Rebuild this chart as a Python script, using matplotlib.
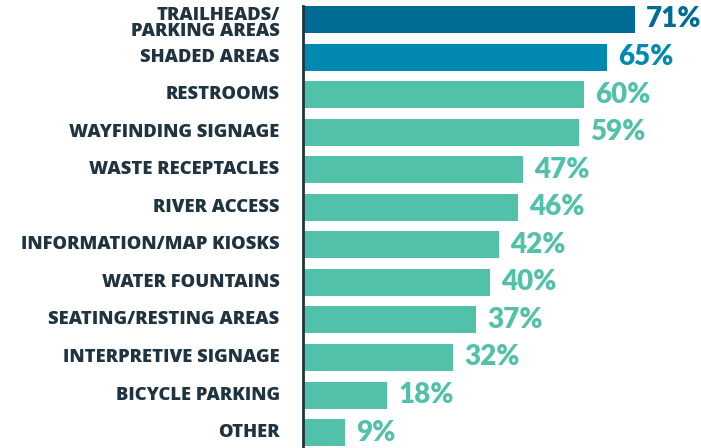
import matplotlib.pyplot as plt

# survey amenities and share of respondents choosing them
amenities = [
    "TRAILHEADS/\nPARKING AREAS",
    "SHADED AREAS",
    "RESTROOMS",
    "WAYFINDING SIGNAGE",
    "WASTE RECEPTACLES",
    "RIVER ACCESS",
    "INFORMATION/MAP KIOSKS",
    "WATER FOUNTAINS",
    "SEATING/RESTING AREAS",
    "INTERPRETIVE SIGNAGE",
    "BICYCLE PARKING",
    "OTHER",
]
shares = [71, 65, 60, 59, 47, 46, 42, 40, 37, 32, 18, 9]

DARK_BLUE = "#006b94"
MID_BLUE = "#0189b1"
TEAL = "#52c1aa"
NAVY = "#1f3440"
bar_colors = [DARK_BLUE, MID_BLUE] + [TEAL] * (len(shares) - 2)

fig = plt.figure(figsize=(7.01, 4.48), dpi=100)
ax = fig.add_axes([303 / 701, 0, 374 / 701, 1])

pos = list(range(len(shares)))
ax.barh(pos, shares, height=0.72, color=bar_colors, left=0)

for y, v, c in zip(pos, shares, bar_colors):
    ax.text(v + 2.4, y, f"{v}%", va="center", ha="left", color=c,
            fontsize=20, fontweight="heavy", family=["Lato", "DejaVu Sans"])

for y, name in zip(pos, amenities):
    two_lines = "\n" in name
    ax.text(-5.0, y + (0.1 if two_lines else 0), name, va="center",
            ha="right", color=NAVY, fontsize=13.2, fontweight=800,
            linespacing=0.92, family=["Open Sans", "DejaVu Sans"])

ax.set_xlim(0, 80)
ax.set_ylim(11.41, -0.519)
for s in ["top", "right", "bottom"]:
    ax.spines[s].set_visible(False)
ax.spines["left"].set_color(NAVY)
ax.spines["left"].set_linewidth(2)
ax.spines["left"].set_bounds(-0.36, 11.41)
ax.set_xticks([])
ax.set_yticks([])
ax.patch.set_alpha(0)

fig.savefig("out.png", dpi=100)
